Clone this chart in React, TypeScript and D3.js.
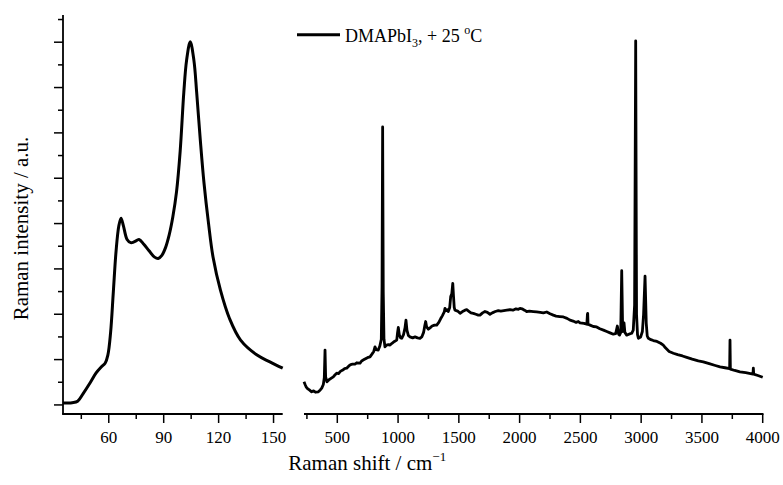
import React from "react";
import * as d3 from "d3";

// ---- Data ----
const leftShift = [35, 40, 43, 46, 50, 53, 56, 58, 59.5, 61, 62.5, 64, 65.5, 66.7, 68, 70, 72, 74, 76.5, 79, 82, 85, 87, 89, 91, 93, 95, 97, 99, 101, 102.5, 104.5, 106.5, 108, 110, 112, 114.5, 117, 121, 126, 132, 141, 148, 155];
const leftIntensity = [0.04, 0.05, 0.08, 0.25, 0.5, 0.7, 0.84, 0.92, 1.1, 1.6, 2.5, 3.4, 3.95, 4.12, 3.95, 3.65, 3.58, 3.6, 3.65, 3.55, 3.4, 3.26, 3.23, 3.3, 3.47, 3.75, 4.15, 4.7, 5.6, 6.9, 7.6, 8.01, 7.6, 6.9, 5.84, 4.9, 4.0, 3.25, 2.53, 1.9, 1.43, 1.1, 0.95, 0.81];

const rightShift = [226, 235, 243, 255, 270, 289, 305, 320, 344, 360, 372, 385, 393, 399, 404, 415, 430, 445, 467, 480, 495, 510, 525, 545, 560, 577, 595, 610, 625, 645, 660, 687, 700, 720, 740, 755, 769, 785, 800, 810, 820, 837, 850, 862, 868, 873, 878, 884, 892, 905, 920, 934, 950, 970, 989, 996, 1002, 1010, 1020, 1030, 1045, 1057, 1065, 1073, 1085, 1098, 1120, 1140, 1160, 1180, 1195, 1210, 1220, 1227, 1235, 1249, 1263, 1280, 1300, 1318, 1335, 1350, 1365, 1380, 1386, 1395, 1405, 1413, 1425, 1433, 1442, 1450, 1456, 1462, 1468, 1490, 1510, 1530, 1551, 1565, 1585, 1600, 1619, 1640, 1660, 1674, 1695, 1715, 1735, 1756, 1775, 1800, 1825, 1845, 1870, 1895, 1921, 1945, 1970, 1990, 2003, 2020, 2040, 2058, 2080, 2113, 2140, 2170, 2195, 2223, 2250, 2277, 2300, 2330, 2360, 2390, 2415, 2440, 2465, 2483, 2497, 2530, 2553, 2558, 2560, 2563, 2580, 2606, 2634, 2660, 2690, 2717, 2744, 2771, 2790, 2804, 2815, 2822, 2832, 2840, 2848, 2855, 2859, 2866, 2881, 2900, 2922, 2935, 2946, 2955, 2962, 2970, 2977, 2996, 3010, 3020, 3032, 3042, 3050, 3059, 3080, 3100, 3130, 3160, 3182, 3200, 3230, 3265, 3300, 3340, 3375, 3420, 3470, 3511, 3560, 3610, 3649, 3690, 3728, 3731, 3734, 3770, 3813, 3860, 3920, 3923, 3926, 3960, 4000];
const rightIntensity = [0.51, 0.45, 0.4, 0.36, 0.33, 0.29, 0.31, 0.28, 0.29, 0.33, 0.37, 0.45, 0.6, 1.21, 0.62, 0.51, 0.55, 0.58, 0.62, 0.66, 0.7, 0.69, 0.74, 0.77, 0.8, 0.81, 0.86, 0.89, 0.9, 0.9, 0.93, 0.92, 0.97, 1.0, 1.03, 1.05, 1.06, 1.12, 1.18, 1.28, 1.22, 1.21, 1.3, 1.45, 2.6, 6.13, 2.5, 1.45, 1.28, 1.32, 1.33, 1.32, 1.36, 1.4, 1.43, 1.6, 1.71, 1.55, 1.48, 1.47, 1.55, 1.7, 1.87, 1.65, 1.53, 1.5, 1.48, 1.5, 1.48, 1.47, 1.5, 1.6, 1.75, 1.84, 1.72, 1.67, 1.7, 1.74, 1.76, 1.76, 1.82, 1.9, 1.97, 2.05, 2.13, 2.08, 2.1, 2.06, 2.15, 2.39, 2.45, 2.68, 2.4, 2.15, 2.09, 2.07, 2.02, 2.06, 2.09, 2.1, 2.06, 2.03, 2.02, 2.0, 1.98, 1.98, 2.03, 2.06, 2.04, 2.0, 2.03, 2.06, 2.08, 2.07, 2.08, 2.09, 2.1, 2.09, 2.12, 2.11, 2.13, 2.12, 2.09, 2.06, 2.07, 2.06, 2.05, 2.04, 2.03, 2.05, 2.01, 1.98, 1.96, 1.95, 1.94, 1.91, 1.87, 1.85, 1.82, 1.84, 1.81, 1.8, 1.78, 2.0, 2.02, 1.78, 1.76, 1.73, 1.72, 1.68, 1.65, 1.62, 1.59, 1.56, 1.57, 1.74, 1.56, 1.54, 1.6, 2.96, 1.62, 1.7, 1.81, 1.6, 1.54, 1.56, 1.58, 1.65, 2.2, 8.03, 2.0, 1.55, 1.47, 1.5, 1.62, 2.0, 2.84, 1.8, 1.52, 1.47, 1.44, 1.42, 1.4, 1.36, 1.32, 1.26, 1.18, 1.14, 1.11, 1.08, 1.05, 1.01, 0.97, 0.95, 0.91, 0.87, 0.84, 0.82, 0.8, 1.43, 0.79, 0.76, 0.73, 0.71, 0.68, 0.81, 0.68, 0.65, 0.61];

const leftMajorTicks = [60, 90, 120, 150];
const leftMinorTicks = [45, 75, 105, 135];
const rightMajorTicks = [500, 1000, 1500, 2000, 2500, 3000, 3500, 4000];
const rightMinorTicks = [250, 750, 1250, 1750, 2250, 2750, 3250, 3750];
const yMajorTicks = [0, 1, 2, 3, 4, 5, 6, 7, 8];
const yMinorTicks = [0.5, 1.5, 2.5, 3.5, 4.5, 5.5, 6.5, 7.5, 8.5];

const FONT = "'Liberation Serif', 'Times New Roman', serif";

export default function App() {
  const W = 783;
  const H = 485;
  const axisY = 414;

  const xL = d3.scaleLinear().domain([35, 155]).range([63, 282.7]);
  const xR = d3.scaleLinear().domain([226, 4000]).range([304, 762.7]);
  const y = d3.scaleLinear().domain([-0.2, 8.6]).range([axisY, 15]);

  const leftData = leftShift.map((s, i) => [s, leftIntensity[i]] as [number, number]);
  const rightData = rightShift.map((s, i) => [s, rightIntensity[i]] as [number, number]);

  const leftLine = d3
    .line<[number, number]>()
    .x((d) => xL(d[0]))
    .y((d) => y(d[1]))
    .curve(d3.curveCatmullRom.alpha(0.5));
  const rightLine = d3
    .line<[number, number]>()
    .x((d) => xR(d[0]))
    .y((d) => y(d[1]));

  const tickStroke = 1.5;

  return (
    <svg
      width={W}
      height={H}
      style={{ position: "absolute", left: 0, top: 0, background: "#fff" }}
      fontFamily={FONT}
    >
      <rect x={0} y={0} width={W} height={H} fill="#fff" />
      {/* Y axis */}
      <line x1={63} x2={63} y1={15} y2={axisY} stroke="#000" strokeWidth={1.8} />
      {yMajorTicks.map((t) => (
        <line key={"ym" + t} x1={54} x2={63} y1={y(t)} y2={y(t)} stroke="#000" strokeWidth={tickStroke} />
      ))}
      {yMinorTicks.map((t) => (
        <line key={"yn" + t} x1={58} x2={63} y1={y(t)} y2={y(t)} stroke="#000" strokeWidth={tickStroke} />
      ))}

      {/* Left x axis */}
      <line x1={62.1} x2={xL.range()[1]} y1={axisY} y2={axisY} stroke="#000" strokeWidth={1.8} />
      {leftMajorTicks.map((t) => (
        <g key={"lx" + t}>
          <line x1={xL(t)} x2={xL(t)} y1={axisY} y2={axisY + 9} stroke="#000" strokeWidth={tickStroke} />
          <text x={xL(t)} y={443} textAnchor="middle" fontSize={17}>
            {t}
          </text>
        </g>
      ))}
      {leftMinorTicks.map((t) => (
        <line key={"lxn" + t} x1={xL(t)} x2={xL(t)} y1={axisY} y2={axisY + 5} stroke="#000" strokeWidth={tickStroke} />
      ))}

      {/* Right x axis */}
      <line x1={xR.range()[0]} x2={xR.range()[1] + 0.8} y1={axisY} y2={axisY} stroke="#000" strokeWidth={1.8} />
      {rightMajorTicks.map((t) => (
        <g key={"rx" + t}>
          <line x1={xR(t)} x2={xR(t)} y1={axisY} y2={axisY + 9} stroke="#000" strokeWidth={tickStroke} />
          <text x={xR(t)} y={443} textAnchor="middle" fontSize={17}>
            {t}
          </text>
        </g>
      ))}
      {rightMinorTicks.map((t) => (
        <line key={"rxn" + t} x1={xR(t)} x2={xR(t)} y1={axisY} y2={axisY + 5} stroke="#000" strokeWidth={tickStroke} />
      ))}

      {/* Curves */}
      <path d={leftLine(leftData) || ""} fill="none" stroke="#000" strokeWidth={3} strokeLinejoin="round" />
      <path d={rightLine(rightData) || ""} fill="none" stroke="#000" strokeWidth={2.8} strokeLinejoin="round" />

      {/* Legend */}
      <line x1={297} x2={340} y1={34.7} y2={34.7} stroke="#000" strokeWidth={3} />
      <text x={345} y={41.5} fontSize={18}>
        DMAPbI
        <tspan fontSize={12} dy={5}>3</tspan>
        <tspan dy={-5}>, + 25 </tspan>
        <tspan fontSize={12} dy={-8}>o</tspan>
        <tspan dy={8}>C</tspan>
      </text>

      {/* Axis titles */}
      <text
        transform={`translate(27.5, 228.5) rotate(-90)`}
        textAnchor="middle"
        fontSize={21}
      >
        Raman intensity / a.u.
      </text>
      <text x={288.3} y={470} fontSize={21}>
        Raman shift / cm
        <tspan fontSize={13} dy={-9}>−1</tspan>
      </text>
    </svg>
  );
}
